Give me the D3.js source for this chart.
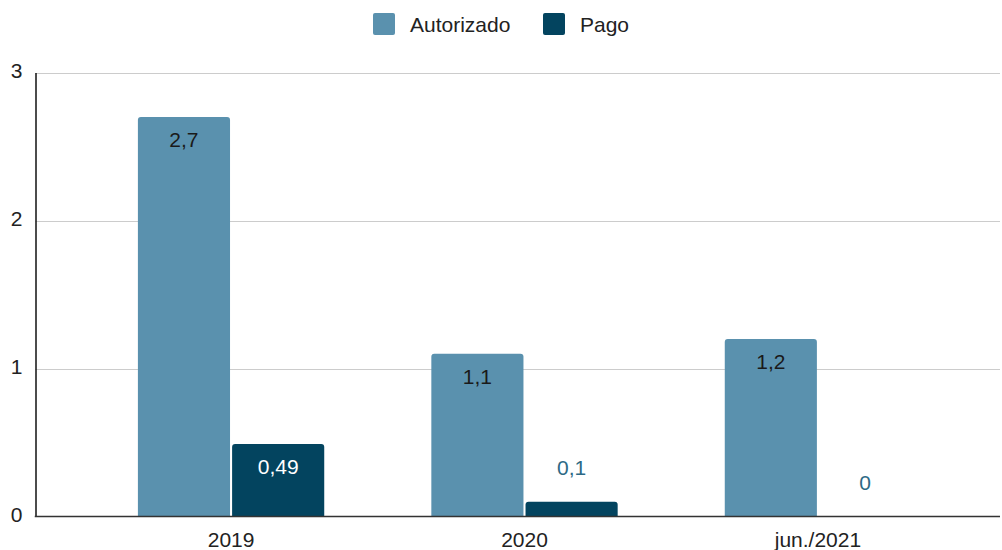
<!DOCTYPE html>
<html><head><meta charset="utf-8">
<script src="https://cdn.jsdelivr.net/npm/d3@7"></script>
<style>body{margin:0;background:#fff;}svg{display:block;font-family:"Liberation Sans",Arial,sans-serif;}</style>
</head><body>
<svg id="c" width="1002" height="550"></svg>
<script>
const categories = ["2019", "2020", "jun./2021"];
const seriesNames = ["Autorizado", "Pago"];
const autorizado = [2.7, 1.1, 1.2];
const pago = [0.49, 0.1, 0];
const labelsAutorizado = ["2,7", "1,1", "1,2"];
const labelsPago = ["0,49", "0,1", "0"];
const yTicks = [0, 1, 2, 3];
const colors = ["#5a91ae", "#03445f"];

const FONT = "'Liberation Sans', Arial, sans-serif";
const FS = 21;
const svg = d3.select("#c");
const mLeft = 35.5, mRight = 1000, mTop = 72.5, mBottom = 516.5;

const x0 = d3.scaleBand().domain(categories).range([84.5, 964.5]).paddingInner(0.365).paddingOuter(0.182);
const x1 = d3.scaleBand().domain(seriesNames).range([0, x0.bandwidth()]).paddingInner(0.022);
const y = d3.scaleLinear().domain([0, 3]).range([mBottom, mTop]);

// gridlines
svg.append("g").selectAll("line").data(yTicks.filter(d => d > 0)).join("line")
  .attr("x1", mLeft).attr("x2", mRight)
  .attr("y1", d => Math.round(y(d)) + 0.5).attr("y2", d => Math.round(y(d)) + 0.5)
  .attr("stroke", "#cccccc").attr("stroke-width", 1);

// y axis
const yAxis = svg.append("g").attr("transform", `translate(${mLeft},0)`)
  .call(d3.axisLeft(y).tickValues(yTicks).tickFormat(d3.format("d")).tickSize(0).tickPadding(13));
yAxis.select(".domain").attr("stroke", "#111").attr("stroke-width", 1.5);
yAxis.selectAll("text").attr("font-size", FS).attr("fill", "#222").attr("font-family", FONT).attr("dy", "0.25em");

const data = categories.map((c, i) => ({c, vals: [
  {s: "Autorizado", v: autorizado[i], lab: labelsAutorizado[i]},
  {s: "Pago", v: pago[i], lab: labelsPago[i]}]}));

function topRounded(x, y0, w, h, r) {
  if (h <= 0) return "";
  r = Math.min(r, h, w / 2);
  return `M${x},${y0 + h}V${y0 + r}Q${x},${y0} ${x + r},${y0}H${x + w - r}Q${x + w},${y0} ${x + w},${y0 + r}V${y0 + h}Z`;
}

const groups = svg.append("g").selectAll("g").data(data).join("g")
  .attr("transform", d => `translate(${x0(d.c)},0)`);
groups.selectAll("path").data(d => d.vals).join("path")
  .attr("d", d => topRounded(x1(d.s), y(d.v), x1.bandwidth(), y(0) - y(d.v), 3))
  .attr("fill", (d, i) => colors[i]);

groups.selectAll("text").data(d => d.vals).join("text")
  .attr("x", d => x1(d.s) + x1.bandwidth() / 2)
  .attr("y", d => {
    const inside = (y(0) - y(d.v)) > 40;
    return inside ? y(d.v) + 30 : y(d.v) - 27;
  })
  .attr("text-anchor", "middle").attr("font-size", FS).attr("font-family", FONT)
  .attr("fill", (d, i) => {
    const inside = (y(0) - y(d.v)) > 40;
    if (!inside) return "#2d6985";
    return i === 0 ? "#1a1a1a" : "#ffffff";
  })
  .text(d => d.lab);

// x axis
const xAxis = svg.append("g").attr("transform", `translate(0,${mBottom})`)
  .call(d3.axisBottom(x0).tickSize(0).tickPadding(16));
xAxis.select(".domain").remove();
xAxis.selectAll("text").attr("font-size", FS).attr("fill", "#222").attr("font-family", FONT);
svg.append("line").attr("x1", mLeft - 0.75).attr("x2", mRight).attr("y1", mBottom).attr("y2", mBottom)
  .attr("stroke", "#333").attr("stroke-width", 1.5);

// legend
const legendX = [373, 543];
const lg = svg.append("g").selectAll("g").data(seriesNames).join("g")
  .attr("transform", (d, i) => `translate(${legendX[i]},13)`);
lg.append("rect").attr("width", 22).attr("height", 22).attr("rx", 2).attr("fill", (d, i) => colors[i]);
lg.append("text").attr("x", 37).attr("y", 18.5).attr("font-size", FS).attr("font-family", FONT)
  .attr("fill", "#222").text(d => d);
</script>
</body></html>
